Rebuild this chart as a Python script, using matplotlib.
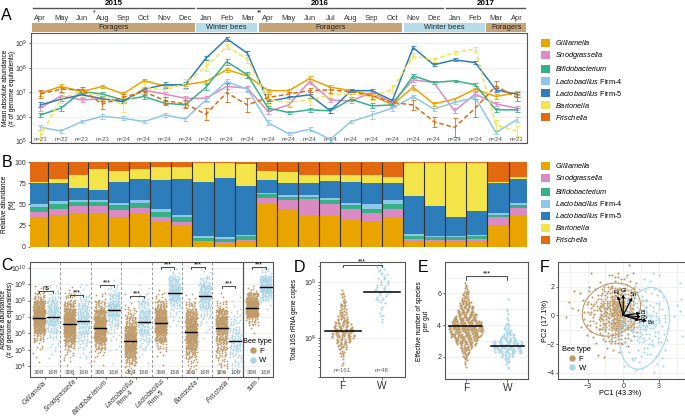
import numpy as np
import matplotlib.pyplot as plt
import matplotlib.transforms as mtransforms
from matplotlib.patches import Patch, Rectangle, Ellipse
from matplotlib.lines import Line2D
from matplotlib.ticker import LogLocator, NullLocator, NullFormatter

plt.rcParams["font.family"] = ["Liberation Sans", "DejaVu Sans"]
plt.rcParams["mathtext.fontset"] = "custom"
plt.rcParams["mathtext.rm"] = "Liberation Sans"
plt.rcParams["mathtext.it"] = "Liberation Sans:italic"
plt.rcParams["mathtext.bf"] = "Liberation Sans:bold"

W, H = 685, 418

# ---------------- taxa
taxa = ["Gilliamella", "Snodgrassella", "Bifidobacterium", "Lactobacillus Firm-4",
        "Lactobacillus Firm-5", "Bartonella", "Frischella"]
taxa_labels = [r"$\it{Gilliamella}$", r"$\it{Snodgrassella}$", r"$\it{Bifidobacterium}$",
               r"$\it{Lactobacillus}$ Firm-4", r"$\it{Lactobacillus}$ Firm-5",
               r"$\it{Bartonella}$", r"$\it{Frischella}$"]
taxa_colors = ["#E9A400", "#DA8BC3", "#36B186", "#8DC7EA", "#2D7DBB", "#F3E44A", "#E2690F"]
taxa_dashed = [False, False, False, False, False, True, True]

# ---------------- panel A: monthly mean abundance (log10 genome equivalents)
months = ["Apr", "May", "Jun", "Aug", "Sep", "Oct", "Nov", "Dec", "Jan", "Feb", "Mar", "Apr",
          "May", "Jun", "Jul", "Aug", "Sep", "Oct", "Nov", "Dec", "Jan", "Feb", "Mar", "Apr"]
n_per_month = [21, 22, 23, 23, 24, 24, 24, 24, 24, 24, 24, 24,
               24, 24, 24, 24, 24, 24, 24, 24, 24, 24, 24, 21]
month_marks = ["", "", "", "*", "", "", "", "", "", "", "", "**",
               "", "", "", "", "", "", "", "", "", "", "", ""]
stage_names = ["Foragers", "Winter bees", "Foragers", "Winter bees", "Foragers"]
stage_first = [0, 8, 11, 18, 22]
stage_last = [7, 10, 17, 21, 23]
stage_winter = [False, True, False, True, False]
years = ["2015", "2016", "2017"]
year_first = [0, 8, 20]
year_last = [7, 19, 23]

gi_log = [6.97, 7.24, 7.03, 7.24, 6.94, 7.48, 7.26, 7.31, 7.44, 7.92, 7.67, 7.07,
          7.07, 7.56, 7.21, 7.07, 6.90, 6.49, 7.21, 6.53, 6.72, 7.13, 6.83, 6.99]
sn_log = [6.36, 6.86, 6.69, 6.74, 6.63, 7.10, 6.93, 6.76, 6.76, 7.24, 7.17, 6.22,
          6.49, 7.44, 6.69, 6.65, 6.99, 6.59, 7.51, 7.40, 6.25, 6.93, 6.53, 6.36]
bi_log = [6.08, 6.36, 7.03, 6.93, 6.69, 6.83, 6.56, 6.49, 7.21, 8.25, 7.71, 6.36,
          6.18, 6.29, 6.25, 6.72, 6.45, 6.49, 7.67, 7.40, 7.47, 7.31, 6.29, 6.29]
f4_log = [5.58, 5.43, 5.81, 6.02, 5.95, 5.81, 6.08, 5.92, 6.69, 7.44, 7.13, 5.77,
          5.31, 5.50, 5.09, 5.81, 6.08, 6.36, 6.83, 6.32, 6.59, 6.79, 5.37, 5.88]
f5_log = [6.49, 6.72, 6.90, 6.74, 6.63, 7.13, 7.31, 7.31, 8.39, 9.18, 8.59, 6.63,
          6.79, 6.90, 6.25, 7.07, 7.07, 6.67, 8.82, 8.12, 8.32, 8.21, 7.10, 6.93]
ba_log = [5.18, 6.76, 7.03, 6.83, 6.49, 7.21, 7.10, 7.35, 8.05, 8.86, 8.35, 6.69,
          6.60, 6.69, 6.90, 6.94, 6.83, 7.13, 8.48, 8.32, 8.62, 8.76, 5.68, 5.43]
fr_log = [6.94, 7.13, 7.10, 6.52, 6.80, 7.03, 6.67, 6.53, 6.11, 6.99, 6.49, 6.79,
          6.93, 7.07, 7.10, 7.03, 6.86, 6.59, 6.49, 5.81, 5.57, 6.36, 7.26, 6.80]

gi_err = [0.10, 0.08, 0.08, 0.07, 0.07, 0.06, 0.06, 0.06, 0.06, 0.08, 0.08, 0.06,
          0.06, 0.12, 0.08, 0.06, 0.06, 0.08, 0.10, 0.08, 0.06, 0.06, 0.10, 0.08]
sn_err = [0.10, 0.10, 0.08, 0.08, 0.08, 0.07, 0.10, 0.10, 0.10, 0.10, 0.10, 0.10,
          0.10, 0.10, 0.08, 0.08, 0.08, 0.08, 0.08, 0.08, 0.10, 0.08, 0.08, 0.08]
bi_err = [0.10, 0.10, 0.10, 0.10, 0.10, 0.10, 0.08, 0.08, 0.12, 0.12, 0.12, 0.10,
          0.07, 0.07, 0.10, 0.08, 0.10, 0.10, 0.08, 0.06, 0.05, 0.06, 0.08, 0.08]
f4_err = [0.10, 0.07, 0.07, 0.12, 0.08, 0.07, 0.08, 0.08, 0.10, 0.10, 0.10, 0.10,
          0.06, 0.08, 0.10, 0.06, 0.15, 0.10, 0.06, 0.06, 0.06, 0.06, 0.08, 0.10]
f5_err = [0.10, 0.08, 0.08, 0.10, 0.08, 0.08, 0.12, 0.12, 0.08, 0.08, 0.08, 0.08,
          0.08, 0.12, 0.10, 0.06, 0.08, 0.08, 0.06, 0.06, 0.06, 0.06, 0.08, 0.10]
ba_err = [0.30, 0.20, 0.20, 0.15, 0.30, 0.20, 0.20, 0.20, 0.20, 0.10, 0.15, 0.15,
          0.15, 0.20, 0.20, 0.15, 0.15, 0.15, 0.10, 0.08, 0.08, 0.08, 0.20, 0.20]
fr_err = [0.15, 0.10, 0.12, 0.20, 0.12, 0.12, 0.15, 0.15, 0.25, 0.40, 0.30, 0.15,
          0.10, 0.12, 0.12, 0.10, 0.12, 0.12, 0.20, 0.20, 0.40, 0.35, 0.20, 0.15]

# ---------------- panel B: relative abundance per month (%)
gi_rel = [35, 37, 40, 40, 35, 40, 30, 25, 5, 4, 6, 50, 45, 38, 36, 32, 30, 35, 7, 6, 6, 7, 25, 38]
sn_rel = [6, 8, 8, 8, 8, 6, 5, 4, 1, 1, 2, 8, 10, 18, 15, 12, 10, 10, 2, 2, 2, 2, 10, 8]
bi_rel = [6, 6, 5, 5, 6, 6, 6, 6, 4, 4, 4, 4, 4, 3, 4, 5, 5, 5, 4, 3, 3, 3, 3, 3]
f4_rel = [3, 3, 2, 2, 3, 3, 3, 3, 2, 2, 2, 2, 2, 2, 3, 3, 5, 5, 2, 2, 2, 2, 2, 3]
f5_rel = [25, 22, 15, 12, 25, 25, 35, 42, 65, 70, 58, 15, 15, 15, 20, 25, 25, 20, 45, 35, 22, 28, 35, 28]
ba_rel = [2, 4, 15, 25, 13, 12, 15, 15, 22, 18, 26, 11, 12, 9, 7, 8, 10, 8, 39, 51, 64, 57, 2, 2]
fr_rel = [23, 20, 15, 8, 10, 8, 6, 5, 1, 1, 2, 10, 12, 15, 15, 15, 15, 17, 1, 1, 1, 1, 23, 18]

# ---------------- panel C: absolute abundance, counts per half-decade bin (log10 3.0 ... 10.0)
c_groups = [r"$\it{Gilliamella}$", r"$\it{Snodgrassella}$", r"$\it{Bifidobacterium}$",
            "$\\it{Lactobacillus}$\nFirm-4", "$\\it{Lactobacillus}$\nFirm-5",
            r"$\it{Bartonella}$", r"$\it{Frischella}$", "sum"]
c_bin_edges = [3.0, 3.5, 4.0, 4.5, 5.0, 5.5, 6.0, 6.5, 7.0, 7.5, 8.0, 8.5, 9.0, 9.5, 10.0]
c_counts_F = [
    [0, 0, 1, 2, 6, 20, 60, 110, 110, 65, 20, 4, 0, 0],
    [0, 1, 3, 8, 24, 56, 100, 95, 65, 32, 12, 2, 0, 0],
    [0, 0, 2, 8, 30, 75, 110, 90, 55, 22, 6, 0, 0, 0],
    [2, 8, 25, 55, 85, 85, 60, 30, 14, 4, 1, 0, 0, 0],
    [0, 0, 1, 4, 14, 45, 100, 120, 75, 30, 8, 1, 0, 0],
    [0, 4, 12, 30, 55, 80, 85, 70, 40, 18, 4, 0, 0, 0],
    [0, 5, 12, 18, 25, 40, 70, 75, 45, 14, 2, 0, 0, 0],
    [0, 0, 0, 0, 0, 0, 2, 20, 150, 170, 50, 6, 0, 0],
]
c_counts_W = [
    [0, 0, 1, 3, 5, 10, 20, 40, 40, 30, 13, 6, 0, 0],
    [0, 1, 2, 4, 9, 17, 28, 36, 32, 22, 12, 5, 0, 0],
    [0, 0, 1, 1, 2, 4, 10, 22, 48, 45, 25, 9, 1, 0],
    [0, 0, 1, 3, 8, 18, 32, 40, 34, 22, 8, 2, 0, 0],
    [0, 0, 0, 0, 0, 0, 1, 3, 8, 20, 50, 50, 30, 6],
    [0, 0, 0, 0, 0, 1, 3, 6, 14, 32, 50, 40, 18, 4],
    [2, 5, 9, 14, 22, 20, 16, 11, 6, 2, 1, 0, 0, 0],
    [0, 0, 0, 0, 0, 0, 0, 0, 0, 3, 30, 75, 50, 10],
]
c_median_F = [6.95, 6.55, 6.30, 5.55, 6.65, 6.10, 6.30, 7.55]
c_median_W = [7.00, 6.75, 7.40, 6.70, 8.45, 8.25, 5.55, 8.85]
c_n_F = [398, 398, 398, 369, 398, 398, 306, 398]
c_n_W = [168, 168, 168, 168, 168, 168, 108, 168]
c_sig = ["ns", "***", "***", "***", "***", "***", "***", "***"]
c_sig_y = [8.60, 8.35, 8.95, 8.25, 10.05, 10.05, 8.90, 10.05]

# ---------------- panel D: total 16S copies (log10), counts per 0.1-decade bin
d_edges_F = [7.5, 7.6, 7.7, 7.8, 7.9, 8.0, 8.1, 8.2, 8.3, 8.4, 8.5, 8.6, 8.7, 8.8, 8.9]
d_counts_F = [2, 3, 6, 12, 20, 28, 26, 20, 14, 10, 8, 6, 4, 2]
d_edges_W = [8.2, 8.3, 8.4, 8.5, 8.6, 8.7, 8.8, 8.9, 9.0, 9.1, 9.2, 9.3, 9.4]
d_counts_W = [1, 2, 2, 2, 4, 6, 8, 7, 6, 5, 4, 1]
d_median = [8.12, 8.83]
d_n = [161, 48]

# ---------------- panel E: effective number of species, counts per 0.25 bin
e_edges_F = [1.25, 1.5, 1.75, 2.0, 2.25, 2.5, 2.75, 3.0, 3.25, 3.5, 3.75, 4.0,
             4.25, 4.5, 4.75, 5.0, 5.25, 5.5, 5.75, 6.0, 6.25, 6.5, 6.75]
e_counts_F = [1, 2, 4, 7, 10, 16, 24, 32, 38, 42, 42, 38, 32, 26, 22, 18, 14, 10, 8, 6, 4, 2]
e_edges_W = [1.25, 1.5, 1.75, 2.0, 2.25, 2.5, 2.75, 3.0, 3.25, 3.5, 3.75, 4.0,
             4.25, 4.5, 4.75, 5.0, 5.25, 5.5, 5.75]
e_counts_W = [2, 3, 6, 14, 28, 32, 30, 18, 13, 8, 5, 3, 2, 1, 1, 1, 0, 1]
e_median = [3.92, 2.68]

# ---------------- panel F: PCA, point counts per 1x1 cell
pca_x_edges = [-6, -5, -4, -3, -2, -1, 0, 1, 2, 3, 4, 5]
pca_y_edges = [4, 3, 2, 1, 0, -1, -2, -3, -4]   # rows listed top to bottom
pca_counts_F = [
    [0, 0, 0, 0, 0, 0, 1, 0, 0, 0, 0],
    [0, 0, 0, 1, 3, 8, 5, 1, 0, 0, 0],
    [0, 1, 2, 6, 16, 31, 16, 2, 0, 0, 0],
    [0, 2, 3, 14, 32, 60, 30, 4, 0, 0, 0],
    [0, 1, 3, 8, 26, 48, 22, 3, 0, 0, 0],
    [0, 0, 1, 3, 10, 18, 8, 1, 0, 0, 0],
    [0, 0, 0, 1, 2, 3, 1, 0, 0, 0, 0],
    [0, 0, 0, 0, 0, 0, 0, 0, 0, 0, 0],
]
pca_counts_W = [
    [0, 0, 0, 0, 0, 0, 0, 0, 0, 0, 0],
    [0, 0, 0, 0, 0, 0, 1, 2, 2, 1, 1],
    [0, 0, 0, 0, 0, 1, 3, 5, 4, 2, 1],
    [0, 0, 0, 0, 0, 1, 6, 12, 9, 4, 2],
    [0, 0, 0, 0, 0, 2, 10, 20, 16, 5, 1],
    [0, 0, 0, 0, 0, 1, 6, 13, 10, 3, 1],
    [0, 0, 0, 0, 0, 0, 3, 6, 4, 2, 0],
    [0, 0, 0, 0, 0, 0, 2, 3, 2, 1, 0],
]
load_names = ["Fs", "Gi", "Sn", "Bi", "F5", "F4", "Be"]
load_pc1 = [-0.45, 0.00, 0.75, 1.45, 1.50, 1.35, 2.00]
load_pc2 = [1.35, 1.45, 1.25, 0.15, -0.10, -0.35, -0.40]
ell_cx = [-1.0, 1.8]
ell_cy = [0.4, -0.9]
ell_w = [5.0, 5.9]
ell_h = [3.6, 3.9]
ell_angle = [15, 69.6]

bee_types = ["F", "W"]
bee_colors = ["#BE9A68", "#A9D5E6"]
stage_colors = ["#C5A578", "#B5DCE7"]

GRID = "#EBEBEB"
FRAME = "#555555"
TICK_FS = 5
TITLE_FS = 4.7
R2_A1, R2_A2 = 0.7548776662466927, 0.5698402909980532

fig = plt.figure(figsize=(W / 100, H / 100), dpi=100)


def px_axes(left, top, right, bottom):
    return fig.add_axes([left / W, 1 - bottom / H, (right - left) / W, (bottom - top) / H])


def style_axes(ax, size=TICK_FS):
    for s in ax.spines.values():
        s.set_edgecolor(FRAME)
        s.set_linewidth(0.8)
    ax.tick_params(labelsize=size, length=1.8, width=0.5, colors="#333333", pad=1.0)


def fill_points(counts, edges, xc, hw, start=0, per_point=False):
    # quasi-even placement of each bin's points inside the bin
    xs, ys = [], []
    j = start
    for k, e0, e1 in zip(counts, edges[:-1], edges[1:]):
        w = hw * k if per_point else hw
        for _ in range(k):
            u = (0.5 + j * R2_A1) % 1.0
            v = (0.5 + j * R2_A2) % 1.0
            xs.append(xc + (2 * u - 1) * w)
            ys.append(e0 + v * (e1 - e0))
            j += 1
    return np.array(xs), np.array(ys)


def fill_grid(grid, xe, ye, start=0):
    xs, ys = [], []
    j = start
    for r, row in enumerate(grid):
        for c, k in enumerate(row):
            for _ in range(k):
                u = (0.5 + j * R2_A1) % 1.0
                v = (0.5 + j * R2_A2) % 1.0
                xs.append(xe[c] + u * (xe[c + 1] - xe[c]))
                ys.append(ye[r] + v * (ye[r + 1] - ye[r]))
                j += 1
    return np.array(xs), np.array(ys)


def bracket(ax, x0, x1, y, ydrop, label, fs=4.8):
    ax.plot([x0, x0, x1, x1], [ydrop, y, y, ydrop], color="black", lw=0.5, clip_on=False)
    ax.annotate(label, ((x0 + x1) / 2, y), xytext=(0, 1.6), textcoords="offset points",
                ha="center", va="center", fontsize=fs, annotation_clip=False)


# ================= A
axA = px_axes(31, 33.3, 527, 143.3)
style_axes(axA)
x = np.arange(len(months))
a_logs = [gi_log, sn_log, bi_log, f4_log, f5_log, ba_log, fr_log]
a_errs = [gi_err, sn_err, bi_err, f4_err, f5_err, ba_err, fr_err]
for vals, err, col, dashed in zip(a_logs, a_errs, taxa_colors, taxa_dashed):
    v = np.array(vals)
    e = np.array(err)
    mid = 10 ** v
    cont = axA.errorbar(x, mid, yerr=[mid - 10 ** (v - e), 10 ** (v + e) - mid], color=col,
                        lw=1.1, elinewidth=0.6, capsize=1.8, capthick=0.6, zorder=3)
    if dashed:
        cont.lines[0].set_dashes((3, 1.8))
axA.set_yscale("log")
axA.set_ylim(10 ** 4.93, 10 ** 9.4)
axA.set_xlim(-0.45, 23.5)
axA.yaxis.set_major_locator(LogLocator(base=10, numticks=20))
axA.yaxis.set_minor_locator(NullLocator())
axA.set_xticks([])
axA.grid(axis="y", color=GRID, lw=0.5)
axA.set_axisbelow(True)
axA.set_ylabel("Mean absolute abundance\n(# of genome equivalents)", fontsize=TITLE_FS, linespacing=1.0)
axA.yaxis.set_label_coords(-0.031, 0.5)

trans = mtransforms.blended_transform_factory(axA.transData, axA.transAxes)
for i, n in enumerate(n_per_month):
    axA.text(i, 0.035, f"n={n}", transform=trans, ha="center", va="center", fontsize=4.4, color="#555555")
for i, (m, mark) in enumerate(zip(months, month_marks)):
    axA.text(i, 1.139, m, transform=trans, ha="center", va="center", fontsize=5.4,
             color="#333333", clip_on=False)
    if mark:
        axA.text(i - 0.4, 1.19, mark, transform=trans, ha="center", va="center", fontsize=4.8,
                 clip_on=False)
lo_lim, hi_lim = axA.get_xlim()
for name, a, b, winter in zip(stage_names, stage_first, stage_last, stage_winter):
    x0 = a - 0.5 if a > 0 else lo_lim
    x1 = b + 0.5 if b < len(months) - 1 else hi_lim
    axA.add_patch(Rectangle((x0 + 0.04, 1.012), x1 - x0 - 0.08, 0.082, transform=trans,
                            facecolor=stage_colors[1 if winter else 0], edgecolor="none", clip_on=False))
    axA.text((x0 + x1) / 2, 1.053, name, transform=trans, ha="center", va="center", fontsize=5.4,
             color="#222222", clip_on=False)
for yr, a, b in zip(years, year_first, year_last):
    x0 = a - 0.5 if a > 0 else lo_lim
    x1 = b + 0.5 if b < len(months) - 1 else hi_lim
    axA.plot([x0 + 0.08, x1 - 0.08], [1.227, 1.227], transform=trans, color=FRAME, lw=1.0, clip_on=False)
    axA.text((x0 + x1) / 2, 1.275, yr, transform=trans, ha="center", va="center", fontsize=5.8,
             fontweight="bold", clip_on=False)

# ================= B
axB = px_axes(30, 162.3, 527, 246.5)
rel = np.array([gi_rel, sn_rel, bi_rel, f4_rel, f5_rel, ba_rel, fr_rel], dtype=float)
rel = rel / rel.sum(axis=0) * 100
starts = np.concatenate([[0], np.cumsum(n_per_month)[:-1]])
bottom = np.zeros(len(months))
for row, col in zip(rel, taxa_colors):
    axB.bar(starts, row, width=n_per_month, bottom=bottom, align="edge", color=col, linewidth=0)
    bottom += row
axB.vlines(starts[1:], 0, 100, color="#333333", lw=0.8)
axB.set_xlim(0, sum(n_per_month))
axB.set_ylim(0, 100)
axB.set_yticks([0, 25, 50, 75, 100])
axB.set_xticks([])
for s in axB.spines.values():
    s.set_visible(False)
axB.tick_params(labelsize=TICK_FS, length=1.8, width=0.5, colors="#333333", pad=1.0)
axB.set_ylabel("Relative abundance\n[%]", fontsize=TITLE_FS, linespacing=1.0)
axB.yaxis.set_label_coords(-0.030, 0.5)

handles = [Patch(facecolor=c, edgecolor="none") for c in taxa_colors]
for top in (0.908, 0.614):
    fig.legend(handles, taxa_labels, loc="upper left", bbox_to_anchor=(0.790, top), frameon=False,
               fontsize=5.3, handlelength=1.22, handleheight=1.22, handletextpad=0.7,
               labelspacing=0.41, borderaxespad=0, borderpad=0)

# ================= C
axC = px_axes(30, 262.3, 273.3, 377)
style_axes(axC)
axC.set_yscale("log")
axC.set_ylim(10 ** 3.33, 10 ** 10.34)
axC.set_xlim(0, len(c_groups))
axC.yaxis.set_major_locator(LogLocator(base=10, numticks=20))
axC.yaxis.set_minor_locator(NullLocator())
axC.grid(axis="y", color=GRID, lw=0.5)
axC.set_axisbelow(True)
start = 0
for g in range(len(c_groups)):
    for counts, off, col, med, n in ((c_counts_F[g], 0.3, bee_colors[0], c_median_F[g], c_n_F[g]),
                                     (c_counts_W[g], 0.75, bee_colors[1], c_median_W[g], c_n_W[g])):
        px_, py_ = fill_points(counts, c_bin_edges, g + off, 0.19, start)
        start += len(px_)
        axC.scatter(px_, 10 ** py_, s=1.7, color=col, linewidths=0, zorder=2)
        axC.plot([g + off - 0.2, g + off + 0.2], [10 ** med] * 2, color="black", lw=1.0, zorder=3)
        axC.text(g + off, 10 ** 3.6, str(n), ha="center", va="center", fontsize=4.4, color="#555555")
    y = 10 ** c_sig_y[g]
    bracket(axC, g + 0.3, g + 0.75, y, y / 10 ** 0.12, c_sig[g])
for g in range(1, len(c_groups)):
    last = g == len(c_groups) - 1
    axC.axvline(g, color=FRAME if last else "#999999", lw=0.9 if last else 0.7,
                ls="-" if last else (0, (3, 2)), zorder=1)
axC.set_xticks(np.arange(len(c_groups)) + 0.5)
axC.set_xticklabels(c_groups, rotation=45, ha="right", va="center", rotation_mode="anchor",
                    fontsize=4.8, multialignment="center", linespacing=1.0)
axC.tick_params(axis="x", length=1.5, pad=1.0)
axC.set_ylabel("Absolute abundance\n(# of genome equivalents)", fontsize=TITLE_FS, linespacing=1.0)
axC.yaxis.set_label_coords(-0.064, 0.5)
bee_handles = [Line2D([], [], marker="o", ls="none", color=c, markersize=3.6) for c in bee_colors]
axC.legend(bee_handles, bee_types, title="Bee type", loc="upper left", bbox_to_anchor=(0.86, 0.37),
           frameon=False, fontsize=5.6, title_fontsize=5.3, handletextpad=0.2, borderpad=0,
           labelspacing=0.25, handlelength=1.2)

# ================= D
axD = px_axes(320, 262.3, 405, 376.7)
style_axes(axD)
axD.set_yscale("log")
axD.set_ylim(10 ** 7.3, 10 ** 9.36)
axD.set_xlim(0.42, 2.6)
axD.yaxis.set_major_locator(LogLocator(base=10, numticks=20))
axD.yaxis.set_minor_locator(LogLocator(base=10, subs=np.arange(2, 10), numticks=20))
axD.yaxis.set_minor_formatter(NullFormatter())
axD.tick_params(axis="y", which="minor", length=1.2, width=0.4)
axD.grid(axis="y", which="major", color=GRID, lw=0.5)
axD.set_axisbelow(True)
d_sets = [(d_counts_F, d_edges_F, 0.0105), (d_counts_W, d_edges_W, 0.028)]
for i, (counts, edges, scale) in enumerate(d_sets):
    px_, py_ = fill_points(counts, edges, i + 1, scale, 11 * i, per_point=True)
    axD.scatter(px_, 10 ** py_, s=2.4, color=bee_colors[i], linewidths=0, zorder=2)
    axD.plot([i + 1 - 0.46, i + 1 + 0.46], [10 ** d_median[i]] * 2, color="black", lw=1.1, zorder=3)
    axD.text(i + 1, 10 ** 7.42, f"n={d_n[i]}", ha="center", va="center", fontsize=4.4, color="#666666")
bracket(axD, 1, 2, 10 ** 9.32, 10 ** 9.27, "***")
axD.set_xticks([1, 2])
axD.set_xticklabels(bee_types, fontsize=7.3)
axD.set_ylabel("Total 16S rRNA gene copies", fontsize=TITLE_FS)
axD.yaxis.set_label_coords(-0.259, 0.5)

# ================= E
axE = px_axes(445, 262.3, 528.3, 379.3)
style_axes(axE)
axE.set_ylim(0.58, 7.97)
axE.set_xlim(0.5, 2.5)
axE.set_yticks([2, 4, 6])
axE.set_yticks([1, 3, 5, 7], minor=True)
axE.tick_params(axis="y", which="minor", length=0)
axE.grid(axis="y", which="both", color=GRID, lw=0.5)
axE.set_axisbelow(True)
e_sets = [(e_counts_F, e_edges_F, 0.0098), (e_counts_W, e_edges_W, 0.0118)]
for i, (counts, edges, scale) in enumerate(e_sets):
    px_, py_ = fill_points(counts, edges, i + 1, scale, 7 * i, per_point=True)
    axE.scatter(px_, py_, s=2.4, color=bee_colors[i], linewidths=0, zorder=2)
    axE.plot([i + 1 - 0.4, i + 1 + 0.4], [e_median[i]] * 2, color="black", lw=1.1, zorder=3)
bracket(axE, 1, 2, 7.1, 6.85, "***")
axE.set_xticks([1, 2])
axE.set_xticklabels(bee_types, fontsize=7.3)
axE.set_ylabel("Effective number of species\nper gut", fontsize=TITLE_FS, linespacing=1.0)
axE.yaxis.set_label_coords(-0.18, 0.5)

# ================= F
axF = px_axes(558.3, 262.3, 686, 379.3)
style_axes(axF)
axF.spines["right"].set_visible(False)
axF.set_xlim(-5.48, 5.3)
axF.set_ylim(-4.46, 3.70)
axF.set_xticks([-3, 0, 3])
axF.set_yticks([-4, -2, 0, 2])
axF.set_xticks([-4.5, -1.5, 1.5, 4.5], minor=True)
axF.set_yticks([-3, -1, 1, 3], minor=True)
axF.tick_params(which="minor", length=0)
axF.grid(which="both", color=GRID, lw=0.5)
axF.set_axisbelow(True)
for i, grid in enumerate((pca_counts_F, pca_counts_W)):
    px_, py_ = fill_grid(grid, pca_x_edges, pca_y_edges, 5 * i)
    axF.scatter(px_, py_, s=2.4, color=bee_colors[i], linewidths=0, zorder=2)
for i in range(2):
    axF.add_patch(Ellipse((ell_cx[i], ell_cy[i]), ell_w[i], ell_h[i], angle=ell_angle[i],
                          fill=False, edgecolor=bee_colors[i], lw=0.8, zorder=3))
for name, lx, ly in zip(load_names, load_pc1, load_pc2):
    axF.annotate("", (lx, ly), (0, 0), arrowprops=dict(arrowstyle="-|>", color="black", lw=0.8,
                                                       mutation_scale=4, shrinkA=0, shrinkB=0), zorder=4)
    axF.text(lx * 1.18, ly * 1.18, name, fontsize=4.2, ha="center", va="center", zorder=5)
axF.set_xlabel("PC1 (43.3%)", fontsize=5.3)
axF.xaxis.set_label_coords(0.487, -0.088)
axF.set_ylabel("PC2 (17.1%)", fontsize=5.3)
axF.yaxis.set_label_coords(-0.075, 0.5)
legF = axF.legend(bee_handles, bee_types, title="Bee type", loc="lower left", bbox_to_anchor=(0.02, 0.05),
                  frameon=True, fontsize=5.6, title_fontsize=5.3, handletextpad=0.2, borderpad=0.2,
                  labelspacing=0.25, handlelength=1.2, borderaxespad=0)
legF.get_frame().set_edgecolor("none")
legF.get_frame().set_facecolor("white")
legF.get_frame().set_alpha(1)

# panel letters
for letter, lx, ly in (("A", 6.7, 15), ("B", 6.7, 162.3), ("C", 6.7, 266), ("D", 299.3, 267.3),
                       ("E", 423.3, 267.3), ("F", 545, 267.3)):
    fig.text(lx / W, 1 - ly / H, letter, fontsize=11.5, ha="center", va="center")

fig.savefig("out.png", dpi=100)
